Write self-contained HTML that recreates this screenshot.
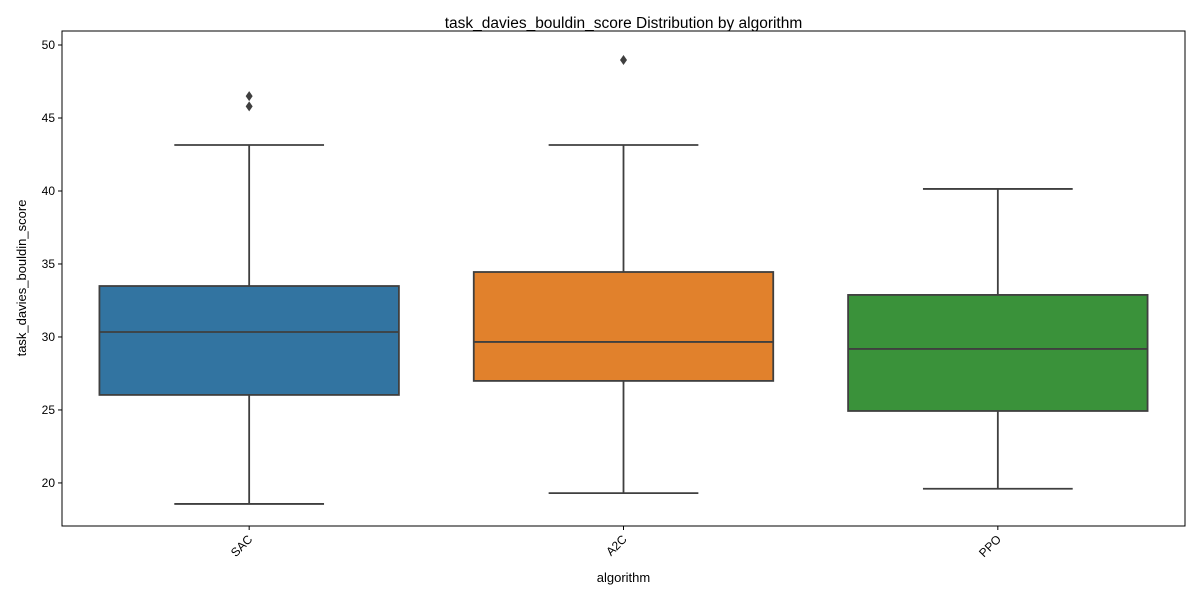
<!DOCTYPE html>
<html><head><meta charset="utf-8"><style>
body{margin:0;background:#fff;}
svg text{font-family:"Liberation Sans","DejaVu Sans",sans-serif;fill:#000;}
</style></head><body>
<svg id="chart" width="1200" height="600" xmlns="http://www.w3.org/2000/svg">
<rect width="1200" height="600" fill="#fff"/>
<text x="623.5" y="28" text-anchor="middle" font-size="15.5">task_davies_bouldin_score Distribution by algorithm</text>
<g id="plot"></g>
<text x="623.5" y="582" text-anchor="middle" font-size="13">algorithm</text>
<text transform="translate(26,278) rotate(-90)" text-anchor="middle" font-size="13">task_davies_bouldin_score</text>
</svg>
<script>
const categories=["SAC","A2C","PPO"];
const whiskerLow=[18.56,19.3,19.6];
const q1=[26.03,26.99,24.93];
const medians=[30.34,29.66,29.18];
const q3=[33.49,34.45,32.88];
const whiskerHigh=[43.15,43.15,40.14];
const outliers=[[46.5,45.8],[48.97],[]];
const colors=["#3274a1","#e1812c","#3a923a"];
const yTicks=[20,25,30,35,40,45,50];

const L=62,R=1185,T=31,B=526;
const yMin=17.05,yMax=50.96;
const y=v=>B-(v-yMin)/(yMax-yMin)*(B-T);
const band=(R-L)/categories.length;
const x=i=>L+band*(i+0.5);
const g=document.getElementById('plot');
const NS="http://www.w3.org/2000/svg";
function mk(t,a){const e=document.createElementNS(NS,t);for(const k in a)e.setAttribute(k,a[k]);g.appendChild(e);return e;}
const lc="#3f3f3f";
const sw=1.8;
yTicks.forEach(v=>{
  const t=mk('line',{x1:L-4,x2:L,y1:y(v),y2:y(v),stroke:'#000'});
  
  
  const l=mk('text',{x:L-7,y:y(v)+4,'text-anchor':'end','font-size':12});
  l.textContent=v;
  
  
});
categories.forEach((c,i)=>{
  const cx=x(i),w=band*0.8,cap=w/2;
  const wl=mk('line',{x1:cx,x2:cx,y1:y(q1[i]),y2:y(whiskerLow[i]),stroke:lc,'stroke-width':sw});
  
  
  const wh=mk('line',{x1:cx,x2:cx,y1:y(q3[i]),y2:y(whiskerHigh[i]),stroke:lc,'stroke-width':sw});
  
  
  const cl=mk('line',{x1:cx-cap/2,x2:cx+cap/2,y1:y(whiskerLow[i]),y2:y(whiskerLow[i]),stroke:lc,'stroke-width':sw});
  
  
  const ch=mk('line',{x1:cx-cap/2,x2:cx+cap/2,y1:y(whiskerHigh[i]),y2:y(whiskerHigh[i]),stroke:lc,'stroke-width':sw});
  
  
  const b=mk('rect',{x:cx-w/2,y:y(q3[i]),width:w,height:y(q1[i])-y(q3[i]),fill:colors[i],stroke:lc,'stroke-width':sw});
  
  
  const m=mk('line',{x1:cx-w/2,x2:cx+w/2,y1:y(medians[i]),y2:y(medians[i]),stroke:lc,'stroke-width':sw});
  
  
  outliers[i].forEach(v=>{
    const yy=y(v);
    const o=mk('polygon',{points:`${cx},${yy-5} ${cx+3.5},${yy} ${cx},${yy+5} ${cx-3.5},${yy}`,fill:lc});
    
    
  });
  const t=mk('line',{x1:cx,x2:cx,y1:B,y2:B+4,stroke:'#000'});
  
  
  const l=mk('text',{x:cx+4,y:B+14,'text-anchor':'end','font-size':12,transform:`rotate(-45 ${cx+4} ${B+14})`});
  l.textContent=c;
  
  
});
const fr=mk('rect',{x:L,y:T,width:R-L,height:B-T,fill:'none',stroke:'#000','stroke-width':1});


</script>
</body></html>
